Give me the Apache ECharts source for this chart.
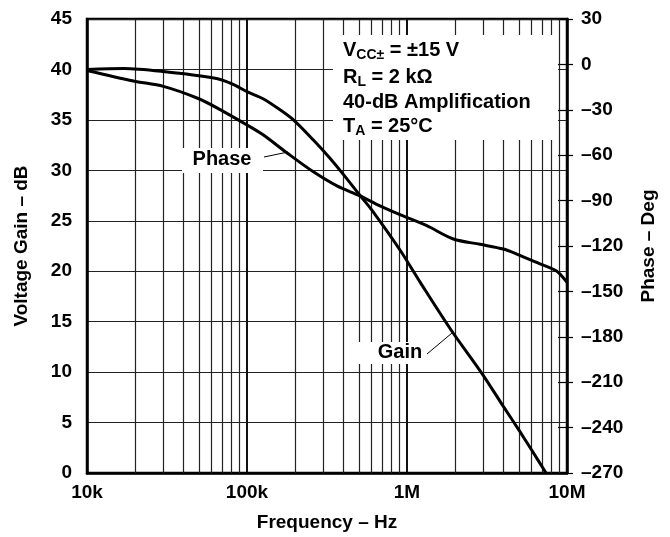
<!DOCTYPE html>
<html>
<head>
<meta charset="utf-8">
<script src="https://cdn.jsdelivr.net/npm/echarts@6/dist/echarts.min.js"></script>
<style>
html,body{margin:0;padding:0;background:#fff;}
#chart{width:670px;height:537px;}
</style>
</head>
<body>
<div id="chart"></div>
<script>
// ---- data ----
const freqTicks = [1e4, 1e5, 1e6, 1e7];
const freqTickLabels = ['10k', '100k', '1M', '10M'];
const gridFreqs = [
  2e4, 3e4, 4e4, 5e4, 6e4, 7e4, 8e4, 9e4,
  2e5, 3e5, 4e5, 5e5, 6e5, 7e5, 8e5, 9e5,
  2e6, 3e6, 4e6, 5e6, 6e6, 7e6, 8e6, 9e6
];
const gainFreq = [10000, 17000, 30000, 62000, 80000, 100000, 126000, 161000, 195000, 260000, 330000, 400000, 509000, 600000, 904000, 1210000, 1900000, 2930000, 4000000, 5080000, 6000000, 7400000];
const gainDb   = [40.0, 40.1, 39.8, 39.15, 38.6, 37.8, 37.1, 36.0, 35.0, 33.0, 31.2, 29.6, 27.5, 26.1, 22.1, 18.9, 14.1, 9.9, 6.6, 4.1, 2.3, 0.0];
const phaseFreq = [10000, 19500, 30000, 50000, 71000, 100000, 126000, 178000, 260000, 365000, 509000, 678000, 904000, 1330000, 1950000, 2860000, 4000000, 4850000, 6780000, 8600000, 10000000];
const phaseDeg  = [-4, -11, -14.5, -22.7, -31, -40, -46.5, -58.5, -71, -80.3, -86.9, -93.5, -99.3, -106.6, -115.4, -118.9, -122, -125.3, -131.8, -136.5, -144];
const gainTicks = {min: 0, max: 45, step: 5};
const phaseTicks = {min: -270, max: 30, step: 30};

const FONT = 'Liberation Sans';
const chart = echarts.init(document.getElementById('chart'), null, {renderer: 'canvas'});

const zip = (a, b) => a.map((v, i) => [v, b[i]]);
const dash = v => String(v).replace('-', '\u2013');

const option = {
  backgroundColor: '#fff',
  animation: false,
  grid: {left: 87, right: 103, top: 19, bottom: 62, show: true, borderColor: '#000', borderWidth: 2.5, backgroundColor: 'transparent'},
  xAxis: [{
    type: 'log', logBase: 10, min: 1e4, max: 1e7,
    name: 'Frequency \u2013 Hz', nameLocation: 'middle', nameGap: 40,
    nameTextStyle: {fontFamily: FONT, fontWeight: 'bold', fontSize: 19, color: '#000'},
    axisLine: {show: true, lineStyle: {color: '#000', width: 2.5}},
    axisTick: {show: false},
    axisLabel: {margin: 10, fontFamily: FONT, fontWeight: 'bold', fontSize: 19, color: '#000',
      formatter: v => freqTickLabels[Math.round(Math.log10(v)) - 4]},
    splitLine: {show: true, lineStyle: {color: '#111', width: 2}}
  }],
  yAxis: [{
    type: 'value', min: gainTicks.min, max: gainTicks.max, interval: gainTicks.step, position: 'left',
    name: 'Voltage Gain \u2013 dB', nameLocation: 'middle', nameGap: 56, nameRotate: 90,
    nameTextStyle: {fontFamily: FONT, fontWeight: 'bold', fontSize: 19, color: '#000'},
    axisLine: {show: true, lineStyle: {color: '#000', width: 2.5}},
    axisTick: {show: false},
    axisLabel: {margin: 15, fontFamily: FONT, fontWeight: 'bold', fontSize: 19, color: '#000'},
    splitLine: {show: true, lineStyle: {color: '#222', width: 1.2}}
  }, {
    type: 'value', min: phaseTicks.min, max: phaseTicks.max, interval: phaseTicks.step, position: 'right',
    name: 'Phase \u2013 Deg', nameLocation: 'middle', nameGap: 72, nameRotate: 90,
    nameTextStyle: {fontFamily: FONT, fontWeight: 'bold', fontSize: 19, color: '#000'},
    axisLine: {show: true, lineStyle: {color: '#000', width: 2.5}},
    axisTick: {show: true, inside: false, length: 6, lineStyle: {color: '#000', width: 1.2}},
    axisLabel: {margin: 14, fontFamily: FONT, fontWeight: 'bold', fontSize: 19, color: '#000', formatter: dash},
    splitLine: {show: false}
  }, {
    type: 'value', min: phaseTicks.min, max: phaseTicks.max, interval: phaseTicks.step, position: 'right',
    axisLine: {show: false},
    axisTick: {show: true, inside: true, length: 9, lineStyle: {color: '#000', width: 1.2}},
    axisLabel: {show: false},
    splitLine: {show: false}
  }],
  series: [{
    name: 'Gain', type: 'line', xAxisIndex: 0, yAxisIndex: 0, z: 10,
    data: zip(gainFreq, gainDb), showSymbol: false, smooth: 0.3,
    lineStyle: {color: '#000', width: 3},
    markLine: {
      silent: true, symbol: 'none', z: 1, animation: false,
      label: {show: false},
      lineStyle: {color: '#222', width: 1.2, type: 'solid'},
      data: gridFreqs.map(f => ({xAxis: f}))
    }
  }, {
    name: 'Phase', type: 'line', xAxisIndex: 0, yAxisIndex: 1, z: 10,
    data: zip(phaseFreq, phaseDeg), showSymbol: false, smooth: 0.3,
    lineStyle: {color: '#000', width: 3}
  }],
  graphic: [
    // annotation box
    {type: 'rect', z: 5, shape: {x: 333, y: 35, width: 225, height: 105}, style: {fill: '#fff'}},
    {type: 'text', z: 6, x: 343, y: 50, style: {
      text: '{m|V}{s|CC\u00b1}{m| = \u00b115 V}', textVerticalAlign: 'middle',
      rich: {m: {fontFamily: FONT, fontWeight: 'bold', fontSize: 20, lineHeight: 24, fill: '#000'},
             s: {fontFamily: FONT, fontWeight: 'bold', fontSize: 14, lineHeight: 14, verticalAlign: 'bottom', fill: '#000'}}}},
    {type: 'text', z: 6, x: 343, y: 77, style: {
      text: '{m|R}{s|L}{m| = 2 k\u03a9}', textVerticalAlign: 'middle',
      rich: {m: {fontFamily: FONT, fontWeight: 'bold', fontSize: 20, lineHeight: 24, fill: '#000'},
             s: {fontFamily: FONT, fontWeight: 'bold', fontSize: 14, lineHeight: 14, verticalAlign: 'bottom', fill: '#000'}}}},
    {type: 'text', z: 6, x: 343, y: 102, style: {
      text: '40-dB Amplification', font: 'bold 20px ' + FONT, fill: '#000', textVerticalAlign: 'middle'}},
    {type: 'text', z: 6, x: 343, y: 126, style: {
      text: '{m|T}{s|A}{m| = 25\u00b0C}', textVerticalAlign: 'middle',
      rich: {m: {fontFamily: FONT, fontWeight: 'bold', fontSize: 20, lineHeight: 24, fill: '#000'},
             s: {fontFamily: FONT, fontWeight: 'bold', fontSize: 14, lineHeight: 14, verticalAlign: 'bottom', fill: '#000'}}}},
    // Phase label
    {type: 'rect', z: 5, shape: {x: 182, y: 148, width: 81, height: 25}, style: {fill: '#fff'}},
    {type: 'text', z: 6, x: 222, y: 159, style: {text: 'Phase', font: 'bold 20px ' + FONT, fill: '#000', textAlign: 'center', textVerticalAlign: 'middle'}},
    {type: 'line', z: 6, shape: {x1: 264, y1: 157, x2: 288, y2: 152}, style: {stroke: '#000', lineWidth: 1}},
    // Gain label
    {type: 'rect', z: 5, shape: {x: 352, y: 342, width: 76, height: 22}, style: {fill: '#fff'}},
    {type: 'text', z: 6, x: 400, y: 352, style: {text: 'Gain', font: 'bold 20px ' + FONT, fill: '#000', textAlign: 'center', textVerticalAlign: 'middle'}},
    {type: 'line', z: 6, shape: {x1: 427, y1: 354, x2: 452, y2: 333}, style: {stroke: '#000', lineWidth: 1}}
  ]
};
chart.setOption(option);
</script>
</body>
</html>
